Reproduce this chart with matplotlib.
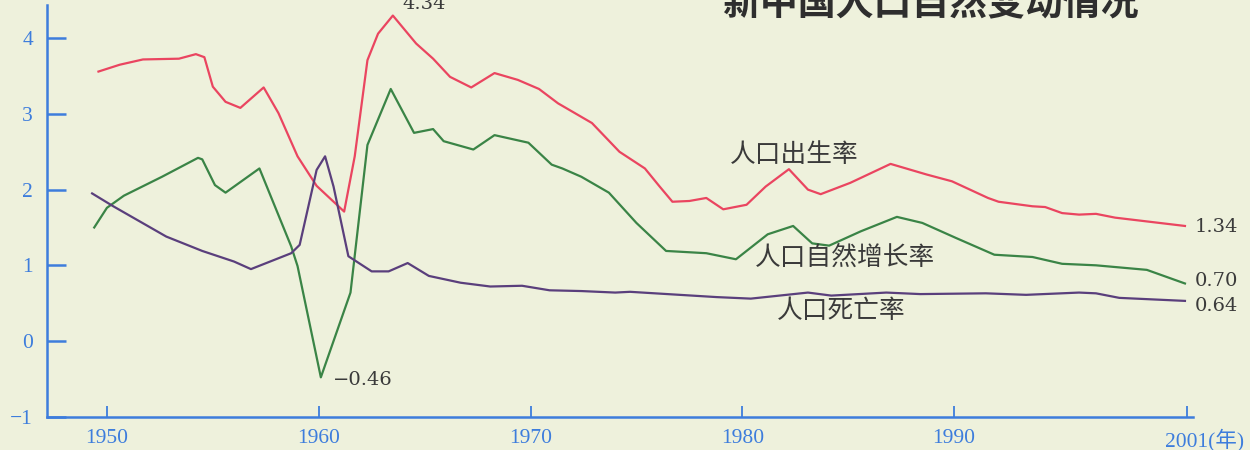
import matplotlib
matplotlib.use("Agg")
import matplotlib.pyplot as plt

# values (rate in %)
birth_years = [1949.6, 1950.6, 1951.7, 1953.4, 1954.2, 1954.6, 1955.0, 1955.6, 1956.3, 1957.4,
               1958.1, 1959.0, 1959.9, 1961.2, 1961.7, 1962.3, 1962.8, 1963.5, 1964.6, 1965.4,
               1966.2, 1967.2, 1968.3, 1969.4, 1970.4, 1971.3, 1972.9, 1974.2, 1975.4, 1976.1,
               1976.7, 1977.5, 1978.3, 1979.1, 1980.2, 1981.1, 1982.2, 1983.1, 1983.7, 1985.1,
               1987.0, 1988.7, 1989.9, 1991.6, 1992.1, 1993.7, 1994.3, 1995.1, 1995.9, 1996.7,
               1997.6, 2000.9]
birth_rate = [3.56, 3.65, 3.72, 3.73, 3.79, 3.75, 3.36, 3.16, 3.08, 3.35,
              3.01, 2.44, 2.05, 1.71, 2.44, 3.71, 4.06, 4.30, 3.93, 3.73,
              3.49, 3.35, 3.54, 3.45, 3.33, 3.14, 2.88, 2.50, 2.28, 2.04,
              1.84, 1.85, 1.89, 1.74, 1.80, 2.04, 2.27, 2.00, 1.94, 2.09,
              2.34, 2.20, 2.11, 1.89, 1.84, 1.78, 1.77, 1.69, 1.67, 1.68,
              1.63, 1.52]

growth_years = [1949.4, 1950.0, 1950.8, 1952.6, 1954.3, 1954.5, 1955.1, 1955.6, 1957.2, 1958.7,
                1959.0, 1960.1, 1961.5, 1962.3, 1963.4, 1964.5, 1965.4, 1965.9, 1967.3, 1968.3,
                1969.9, 1971.0, 1971.5, 1972.4, 1973.7, 1975.0, 1976.4, 1978.3, 1979.7, 1981.2,
                1982.4, 1983.3, 1984.1, 1985.6, 1987.3, 1988.5, 1990.1, 1991.9, 1993.7, 1995.1,
                1996.7, 1999.1, 2000.9]
growth_rate = [1.50, 1.76, 1.92, 2.17, 2.42, 2.40, 2.06, 1.96, 2.28, 1.25,
               0.99, -0.48, 0.64, 2.59, 3.33, 2.75, 2.80, 2.64, 2.53, 2.72,
               2.62, 2.33, 2.28, 2.17, 1.96, 1.56, 1.19, 1.16, 1.08, 1.41,
               1.52, 1.29, 1.26, 1.45, 1.64, 1.56, 1.36, 1.14, 1.11, 1.02,
               1.00, 0.94, 0.76]

death_years = [1949.3, 1950.3, 1952.8, 1954.5, 1956.0, 1956.8, 1958.7, 1959.1, 1959.9, 1960.3,
               1960.7, 1961.4, 1962.5, 1963.3, 1964.2, 1965.2, 1966.7, 1968.1, 1969.6, 1970.9,
               1972.4, 1974.0, 1974.7, 1978.8, 1980.4, 1983.1, 1984.2, 1986.8, 1988.4, 1991.5,
               1993.4, 1995.9, 1996.7, 1997.8, 2000.9]
death_rate = [1.95, 1.78, 1.38, 1.19, 1.05, 0.95, 1.16, 1.27, 2.26, 2.44,
              2.04, 1.12, 0.92, 0.92, 1.03, 0.86, 0.77, 0.72, 0.73, 0.67,
              0.66, 0.64, 0.65, 0.58, 0.56, 0.64, 0.60, 0.64, 0.62, 0.63,
              0.61, 0.64, 0.63, 0.57, 0.53]

x_ticks = [1950, 1960, 1970, 1980, 1990, 2001]
x_labels = ["1950", "1960", "1970", "1980", "1990", ""]
y_ticks = [-1, 0, 1, 2, 3, 4]

bg = "#eef1dc"
blue = "#3d7ddc"
red = "#ea4560"
green = "#3a8446"
purple = "#5a3f7c"
txt = "#3a3a3a"
serif = ["Liberation Serif", "DejaVu Serif"]
wide_serif = ["DejaVu Serif"]
cjk = ["Noto Sans CJK SC", "DejaVu Sans"]

fig = plt.figure(figsize=(12.5, 4.5), dpi=100, facecolor=bg)
ax = fig.add_axes([0.0376, 0.074, 0.9168, 0.915])
ax.set_facecolor("none")

ax.plot(birth_years, birth_rate, color=red, lw=1.6, solid_joinstyle="round")
ax.plot(growth_years, growth_rate, color=green, lw=1.6, solid_joinstyle="round")
ax.plot(death_years, death_rate, color=purple, lw=1.6, solid_joinstyle="round")

ax.set_xlim(1947.17, 2001.28)
ax.set_ylim(-1, 4.44)

for s in ["top", "right"]:
    ax.spines[s].set_visible(False)
for s in ["left", "bottom"]:
    ax.spines[s].set_color(blue)
    ax.spines[s].set_linewidth(1.8)

ax.set_xticks(x_ticks)
ax.set_xticklabels(x_labels)
ax.set_yticks(y_ticks)
ax.set_yticklabels(["\u22121", "0", "1", "2", "3", "4"])
ax.tick_params(axis="y", direction="in", length=13.5, width=1.8, color=blue,
               labelcolor=blue, labelsize=15.5, pad=10)
ax.tick_params(axis="x", direction="in", length=8, width=1.3, color=blue,
               labelcolor=blue, labelsize=15.5, pad=9)
for lab in ax.get_xticklabels() + ax.get_yticklabels():
    lab.set_family(serif)

# value labels
ax.text(1965.0, 4.33, "4.34", ha="center", va="bottom", fontsize=14, color=txt, family=wide_serif)
ax.text(1960.67, -0.52, "\u22120.46", ha="left", va="center", fontsize=14, color=txt, family=wide_serif)
ax.text(2001.37, 1.50, "1.34", ha="left", va="center", fontsize=14, color=txt, family=wide_serif)
ax.text(2001.37, 0.79, "0.70", ha="left", va="center", fontsize=14, color=txt, family=wide_serif)
ax.text(2001.37, 0.46, "0.64", ha="left", va="center", fontsize=14, color=txt, family=wide_serif)

# series names
ax.text(1979.41, 2.46, "人口出生率", ha="left", va="center", fontsize=18.5, color=txt, family=cjk)
ax.text(1980.6, 1.10, "人口自然增长率", ha="left", va="center", fontsize=18.5, color=txt, family=cjk)
ax.text(1981.63, 0.39, "人口死亡率", ha="left", va="center", fontsize=18.5, color=txt, family=cjk)

# title, cut off by the top edge like in the scan
fig.text(0.5784, 0.969, "新中国人口自然变动情况", ha="left", va="baseline", fontsize=27.3,
         fontweight="bold", color="#2e2e2e", family=cjk)

fig.text(0.932, 0.022, "2001(年)", ha="left", va="center", fontsize=15.5, color=blue,
         family=["Liberation Serif", "Noto Sans CJK SC"])

fig.savefig("out.png", dpi=100, facecolor=bg)
